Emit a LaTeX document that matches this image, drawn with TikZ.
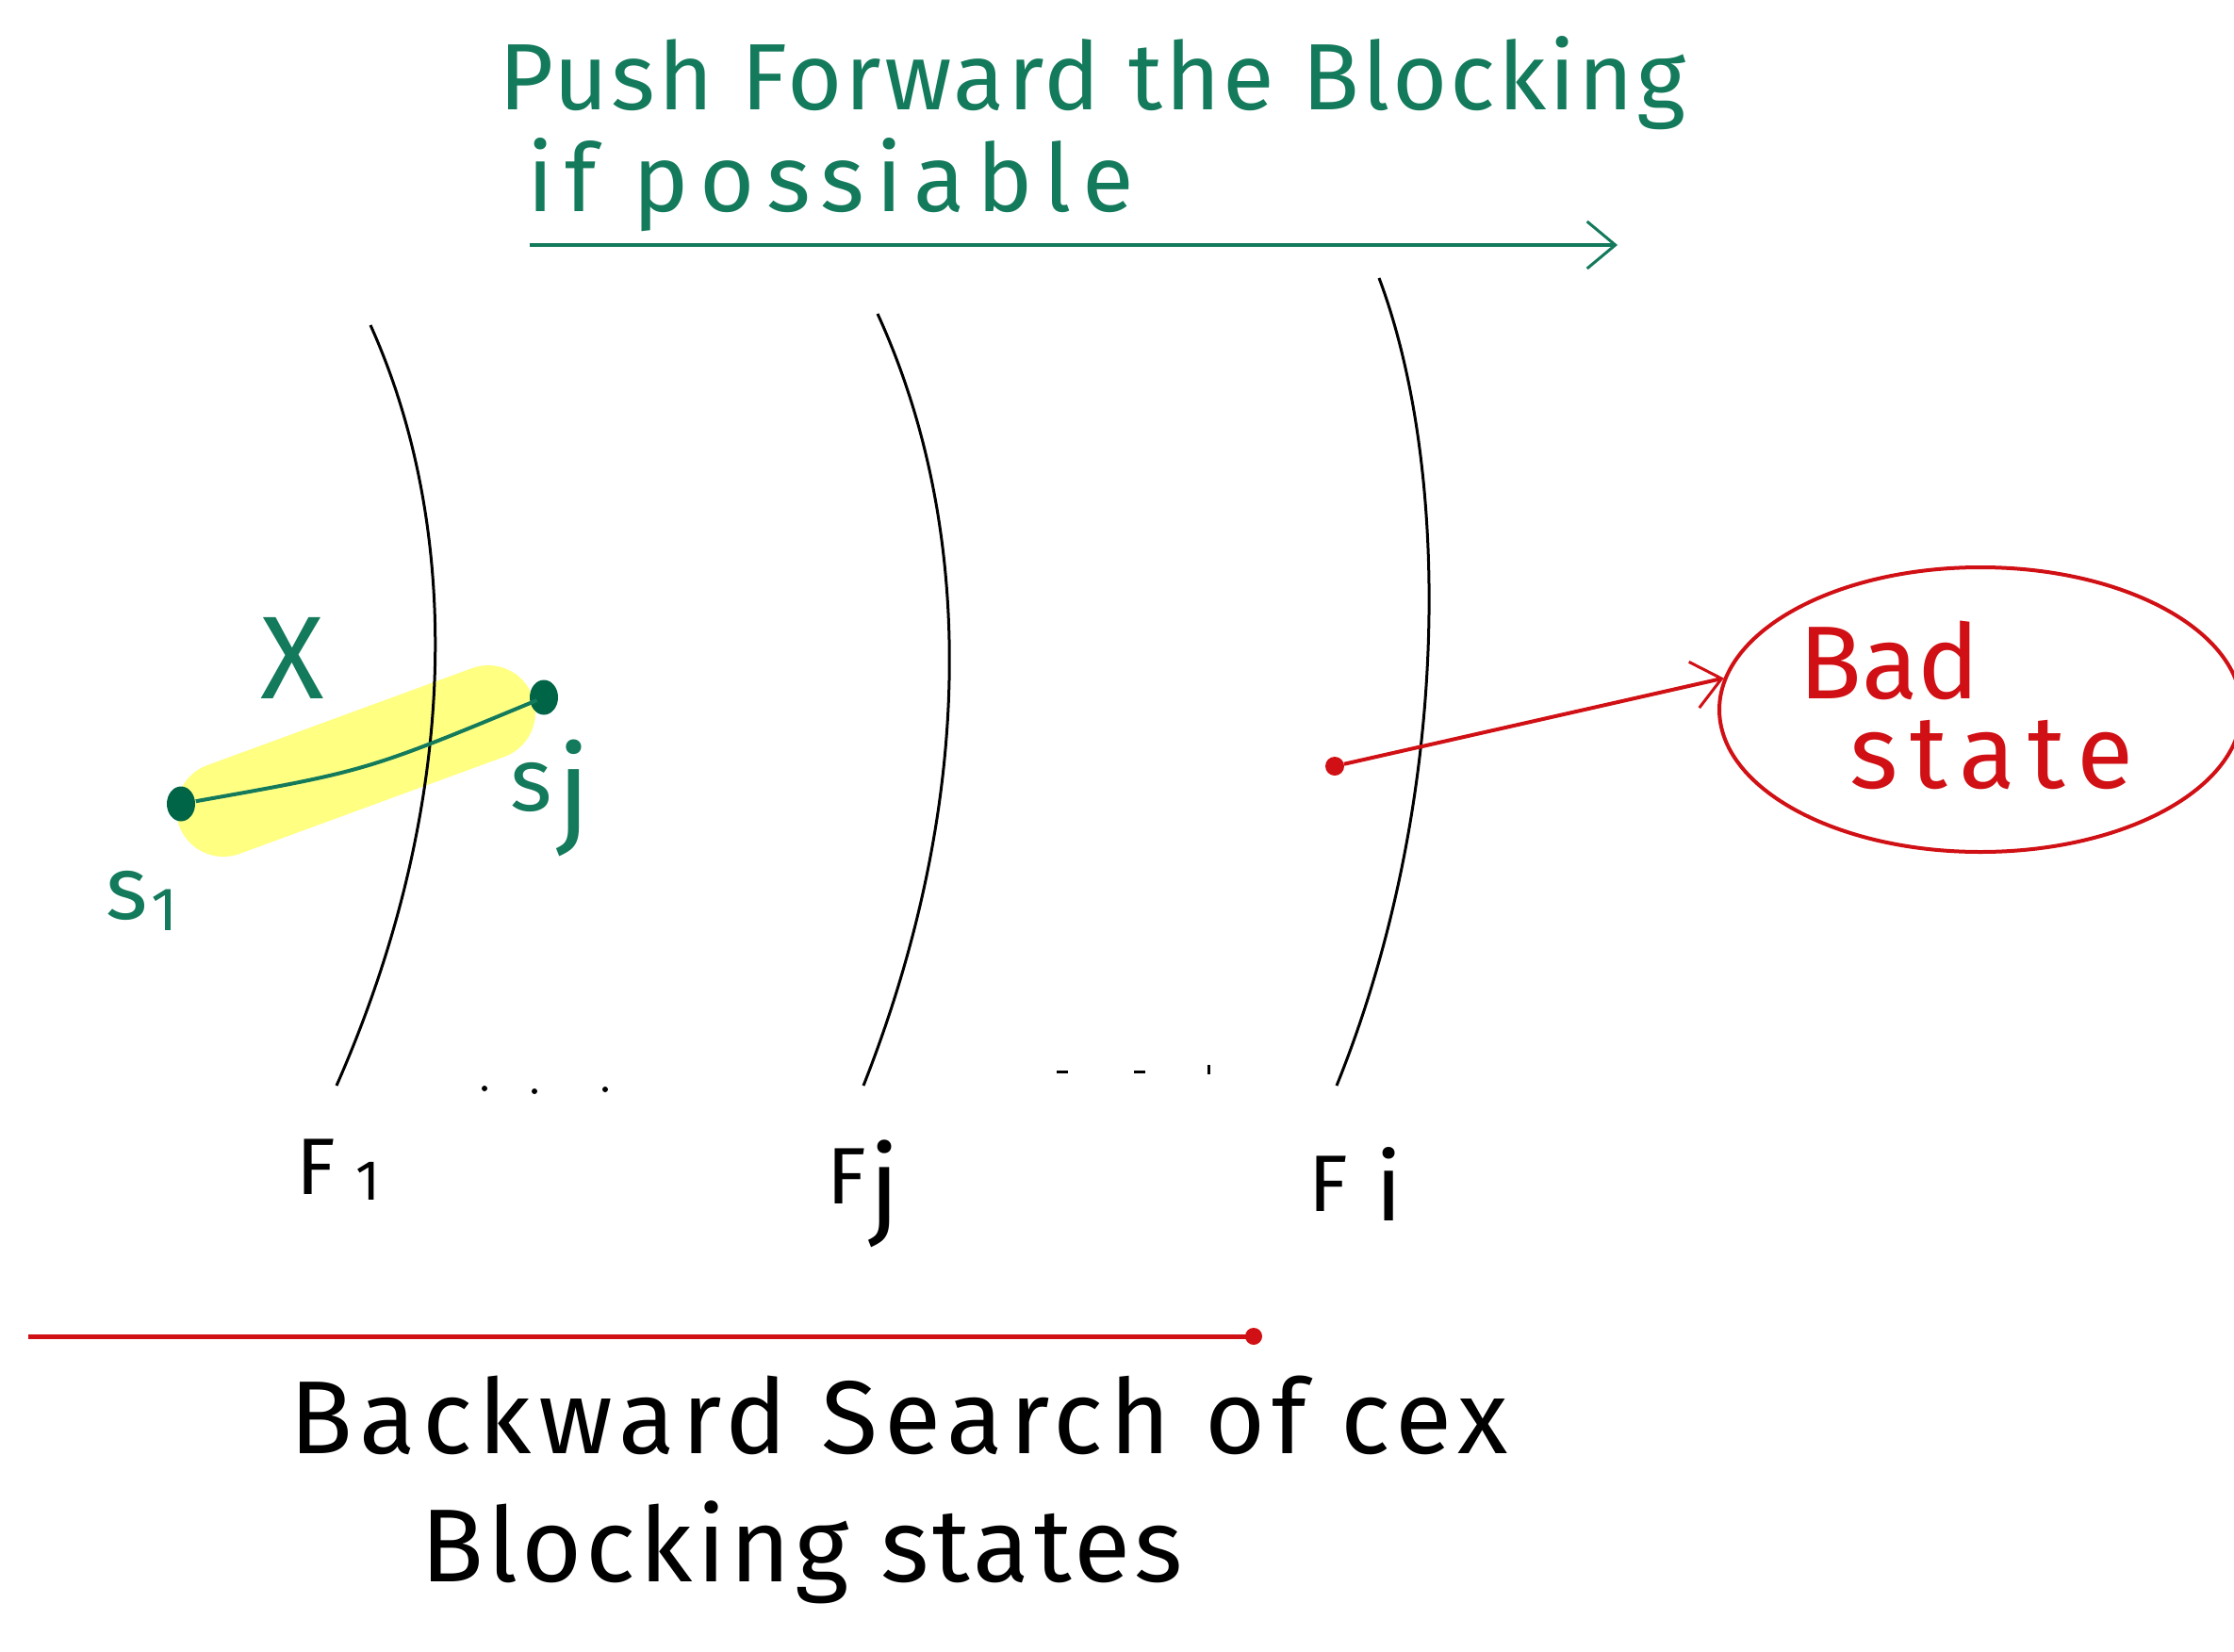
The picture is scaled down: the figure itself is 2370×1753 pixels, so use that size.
\documentclass[tikz,border=0pt]{standalone}
\usepackage{fontspec}
\setmainfont{Fira Sans}
\usetikzlibrary{arrows.meta,shapes.geometric}
\definecolor{inkgreen}{RGB}{20,122,92}
\definecolor{dotgreen}{RGB}{0,100,70}
\definecolor{inkred}{RGB}{208,16,20}
\definecolor{hilite}{RGB}{255,255,130}
\newcommand{\lsp}[1]{\addfontfeatures{LetterSpace=#1}}
\tikzset{
  frame/.style={draw=black,line width=3pt},
  greentxt/.style={text=inkgreen,inner sep=0pt},
  blacktxt/.style={text=black,inner sep=0pt},
  redtxt/.style={text=inkred,inner sep=0pt},
  gdot/.style={ellipse,fill=dotgreen,inner sep=0pt,minimum width=30pt,minimum height=37pt},
  rdot/.style={circle,fill=inkred,inner sep=0pt,minimum size=20pt},
  openarrow/.style={-{Straight Barb[length=30pt,width=50pt,line width=3pt]}},
}
\begin{document}
\begin{tikzpicture}[x=1pt,y=-1pt]
\useasboundingbox (0,0) rectangle (2370,1753);
\fill[white] (0,0) rectangle (2370,1753);

% title
\node[greentxt,anchor=base west,font=\fontsize{100}{110}\selectfont\lsp{3}] (title1) at (529,116) {Push Forward the Blocking};
\node[greentxt,anchor=base west,font=\fontsize{100}{110}\selectfont\lsp{12}] (title2) at (559,224) {if possiable};
\coordinate (pushstart) at (562,260);
\coordinate (pushend) at (1716,260);
\draw[inkgreen,line width=4pt,openarrow] (pushstart) -- (pushend);

% highlight capsule
\draw[hilite,line width=100pt,line cap=round] (237,859) -- (518,756);

% frames
\draw[frame] (393,345) .. controls (490,560) and (490,850) .. (357,1152);
\draw[frame] (931,333) .. controls (1035,560) and (1035,850) .. (916,1152);
\draw[frame] (1463,295) .. controls (1540,500) and (1540,850) .. (1418,1152);

% ellipsis marks
\fill (514,1155) circle (3pt);
\fill (567,1158) circle (3pt);
\fill (642,1156) circle (3pt);
\draw[line width=3pt] (1121,1137) -- (1133,1137);
\draw[line width=3pt] (1203,1137) -- (1215,1137);
\draw[line width=3pt] (1282,1130) -- (1282,1140);

% frame labels
\node[blacktxt,anchor=base west,font=\fontsize{85}{90}\selectfont] (f1) at (314,1267) {F\kern22pt{\fontsize{60}{60}\selectfont\raisebox{-6pt}{1}}};
\node[blacktxt,anchor=base west,font=\fontsize{85}{90}\selectfont] (fj) at (877,1277) {F\kern4pt{\fontsize{115}{115}\selectfont\raisebox{-22pt}{j}}};
\node[blacktxt,anchor=base west,font=\fontsize{85}{90}\selectfont] (fi) at (1388,1285) {F\kern30pt{\fontsize{100}{100}\selectfont\raisebox{-10pt}{i}}};

% states s1, sj
\node[gdot] (s1dot) at (192,853) {};
\node[gdot] (sjdot) at (577,740) {};
\draw[inkgreen,line width=4pt,shorten <=16pt,shorten >=8pt] (s1dot.center) .. controls (389,818) .. (sjdot.center);
\node[greentxt,font=\fontsize{125}{130}\selectfont] (xlbl) at (310,698) {X};
\node[greentxt,anchor=base west,font=\fontsize{95}{100}\selectfont] (s1lbl) at (112,975) {s\kern4pt{\fontsize{65}{65}\selectfont\raisebox{-12pt}{1}}};
\node[greentxt,anchor=base west,font=\fontsize{95}{100}\selectfont] (sjlbl) at (541,860) {s\kern6pt{\fontsize{125}{125}\selectfont\raisebox{-22pt}{j}}};

% bad state
\node[draw=inkred,line width=4pt,ellipse,minimum width=554pt,minimum height=302pt,inner sep=0pt] (bad) at (2101,753) {};
\node[redtxt,anchor=base west,font=\fontsize{110}{120}\selectfont] (badtxt) at (1908,741) {Bad};
\node[redtxt,anchor=base west,font=\fontsize{110}{120}\selectfont\lsp{12}] (statetxt) at (1962,836) {state};
\node[rdot] (reddot) at (1416,813) {};
\draw[inkred,line width=4pt,openarrow] (reddot) -- (bad.173);

% backward search line
\coordinate (cexstart) at (30,1418);
\node[rdot,minimum size=18pt] (cexdot) at (1330,1418) {};
\draw[inkred,line width=5pt] (cexstart) -- (cexdot.center);

\node[blacktxt,anchor=base west,font=\fontsize{110}{120}\selectfont\lsp{6.5}] (back1) at (307,1542) {Backward Search of cex};
\node[blacktxt,anchor=base west,font=\fontsize{110}{120}\selectfont\lsp{3.9}] (back2) at (446,1678) {Blocking states};
\end{tikzpicture}
\end{document}
